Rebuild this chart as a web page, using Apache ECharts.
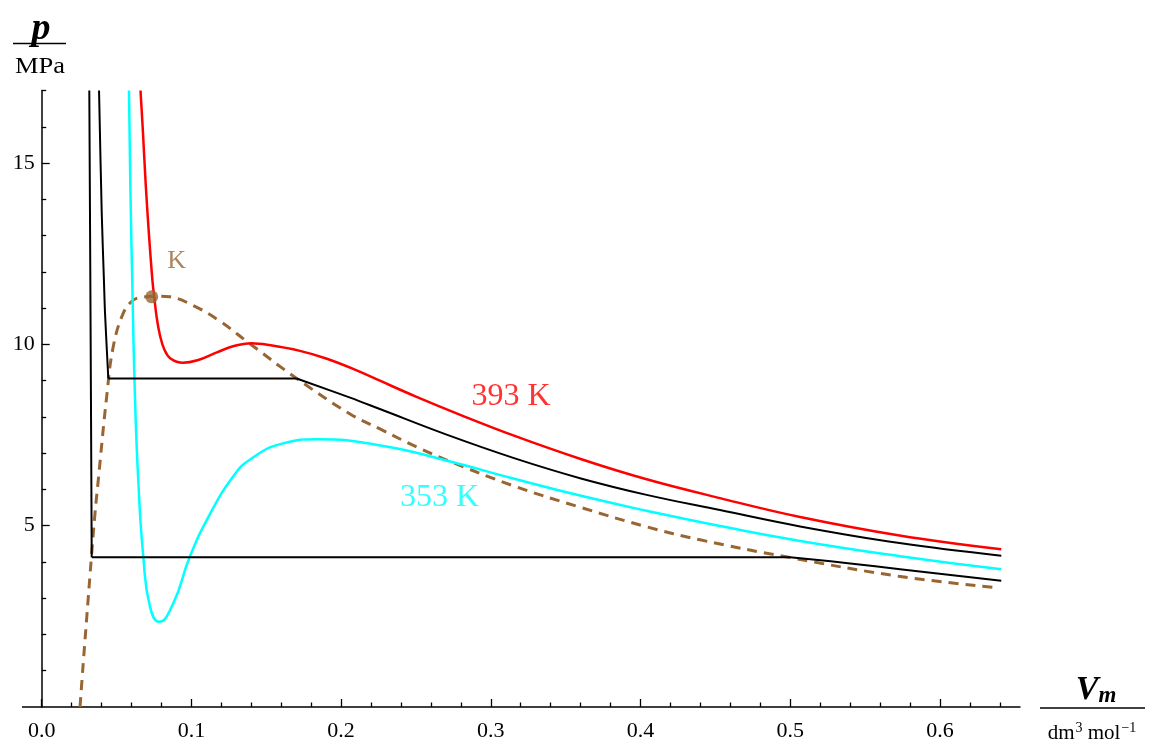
<!DOCTYPE html>
<html><head><meta charset="utf-8">
<script src="https://cdn.jsdelivr.net/npm/echarts@6/dist/echarts.min.js"></script>
<style>html,body{margin:0;padding:0;background:#fff}#c{width:1157px;height:743px}</style>
</head><body><div id="c"></div>
<script>
// ---- tick values ----
const xTickLabels = [0, 0.1, 0.2, 0.3, 0.4, 0.5, 0.6];
const xMinorTicks = [0.02, 0.04, 0.06, 0.08, 0.12, 0.14, 0.16, 0.18, 0.22, 0.24, 0.26, 0.28,
  0.32, 0.34, 0.36, 0.38, 0.42, 0.44, 0.46, 0.48, 0.52, 0.54, 0.56, 0.58, 0.62, 0.64];
const yTickLabels = [5, 10, 15];
const yMinorTicks = [1, 2, 3, 4, 6, 7, 8, 9, 11, 12, 13, 14, 16, 17];

// ---- curves [Vm (dm3/mol), p (MPa)] ----
const red393 = [[0.0660,17.0],[0.0677,15.8],[0.0695,14.4],[0.0717,13.0],[0.0741,11.7],[0.0752,11.3],
  [0.0768,10.75],[0.0790,10.25],[0.0820,9.85],[0.0860,9.61],[0.0944,9.49],[0.1040,9.56],[0.1170,9.78],
  [0.1290,9.96],[0.1400,10.03],[0.1520,9.98],[0.1725,9.82],[0.1900,9.61],[0.2100,9.29],[0.2263,8.99],
  [0.2500,8.56],[0.2800,8.05],[0.3150,7.49],[0.3600,6.84],[0.4041,6.28],[0.4531,5.76],[0.5066,5.24],
  [0.5730,4.73],[0.6410,4.35]];
const cyan353 = [[0.0583,17.0],[0.0592,14.4],[0.0605,11.73],[0.0623,8.56],[0.0645,6.26],[0.0679,4.13],
  [0.0723,2.77],[0.0784,2.35],[0.0879,2.86],[0.0990,4.15],[0.1124,5.32],[0.1280,6.36],[0.1390,6.82],
  [0.1614,7.27],[0.1837,7.38],[0.2282,7.20],[0.2728,6.77],[0.3150,6.30],[0.3596,5.83],[0.4041,5.41],
  [0.4531,4.99],[0.5066,4.58],[0.5734,4.16],[0.6410,3.80]];
const black393Liquid = [[0.0383,17.0],[0.0401,13.63],[0.0416,11.73],[0.0423,10.86],[0.0445,9.06]];
const black393Tie = [[0.0445,9.06],[0.1703,9.06]];
const black393Gas = [[0.1703,9.06],[0.2060,8.53],[0.2263,8.21],[0.2705,7.51],[0.3150,6.87],[0.3596,6.31],
  [0.4041,5.85],[0.4531,5.43],[0.5066,4.98],[0.5730,4.52],[0.6410,4.17]];
const black353Liquid = [[0.0318,17.0],[0.0325,11.7],[0.0329,8.5],[0.0334,4.13]];
const black353Tie = [[0.0334,4.13],[0.4999,4.13]];
const black353Gas = [[0.4999,4.13],[0.5401,3.96],[0.5734,3.80],[0.6410,3.48]];
const brownBoundary = [[0.0256,0],[0.0274,1.02],[0.0303,2.58],[0.0332,4.13],[0.0356,5.34],[0.0378,6.26],
  [0.0434,8.56],[0.0478,9.94],[0.0545,10.86],[0.0612,11.22],[0.0680,11.30],[0.0780,11.33],[0.0857,11.31],
  [0.1013,11.07],[0.1180,10.67],[0.1380,10.05],[0.1703,9.06],[0.2060,8.08],[0.2263,7.66],[0.2505,7.17],
  [0.2705,6.81],[0.3150,6.10],[0.3596,5.51],[0.4041,4.97],[0.4398,4.61],[0.4999,4.12],[0.5734,3.60],
  [0.6380,3.29]];
const criticalPoint = [[0.0735, 11.31]];
const criticalName = ['K'];
const curveNames = ['393 K', '353 K'];
const curveNameAnchors = [[0.3135, 8.55], [0.2657, 5.78]];

// ---- chart ----
const FONT = '"Liberation Serif", "DejaVu Serif", serif';
const RED = '#ff0000', CYAN = '#00ffff', BROWN = '#996633';
const X_MIN = 0, X_MAX = 0.6535, Y_MIN = 0, Y_MAX = 17;
const GRID = {left: 41.7, top: 90.5, width: 978.3, height: 616.5};

const chart = echarts.init(document.getElementById('c'), null, {renderer: 'canvas'});

function lineSeries(data, color, width, smooth, dashed) {
  return {
    type: 'line', data: data, xAxisIndex: 0, yAxisIndex: 0, showSymbol: false, symbol: 'none',
    smooth: smooth, silent: true, clip: true, z: 2,
    lineStyle: {color: color, width: width, type: dashed ? [10, 7] : 'solid', cap: 'butt', join: 'round'}
  };
}

const tickStyle = {color: '#000', width: 1.3};
const option = {
  animation: false,
  backgroundColor: '#ffffff',
  grid: Object.assign({containLabel: false}, GRID),
  xAxis: [
    {type: 'value', min: X_MIN, max: X_MAX, position: 'bottom',
     axisLine: {show: true, onZero: false, lineStyle: {color: '#000', width: 1.5}},
     axisTick: {show: true, inside: true, length: 8, customValues: xTickLabels, lineStyle: tickStyle},
     axisLabel: {show: true, customValues: xTickLabels, margin: 13, color: '#000', fontFamily: FONT, fontSize: 22,
       formatter: v => Number(v).toFixed(1)},
     splitLine: {show: false}},
    {type: 'value', min: X_MIN, max: X_MAX, position: 'bottom',
     axisLine: {show: false, onZero: false},
     axisTick: {show: true, inside: true, length: 4.5, customValues: xMinorTicks, lineStyle: tickStyle},
     axisLabel: {show: false}, splitLine: {show: false}}
  ],
  yAxis: [
    {type: 'value', min: Y_MIN, max: Y_MAX, position: 'left',
     axisLine: {show: true, onZero: false, lineStyle: {color: '#000', width: 1.5}},
     axisTick: {show: true, inside: true, length: 8, customValues: yTickLabels, lineStyle: tickStyle},
     axisLabel: {show: true, customValues: yTickLabels, margin: 7, color: '#000', fontFamily: FONT, fontSize: 22},
     splitLine: {show: false}},
    {type: 'value', min: Y_MIN, max: Y_MAX, position: 'left',
     axisLine: {show: false, onZero: false},
     axisTick: {show: true, inside: true, length: 4.5, customValues: yMinorTicks, lineStyle: tickStyle},
     axisLabel: {show: false}, splitLine: {show: false}}
  ],
  series: [
    lineSeries(brownBoundary, BROWN, 3, 0.4, true),
    lineSeries(cyan353, CYAN, 2.5, 0.5, false),
    lineSeries(black353Liquid, '#000', 2, 0.3, false),
    lineSeries(black353Tie, '#000', 2, false, false),
    lineSeries(black353Gas, '#000', 2, 0.4, false),
    lineSeries(black393Liquid, '#000', 2, 0.3, false),
    lineSeries(black393Tie, '#000', 2, false, false),
    lineSeries(black393Gas, '#000', 2, 0.4, false),
    lineSeries(red393, RED, 2.5, 0.4, false),
    {type: 'scatter', silent: true, z: 5, xAxisIndex: 0, yAxisIndex: 0, symbol: 'circle', symbolSize: 13,
     itemStyle: {color: BROWN},
     data: criticalPoint.map((p, i) => ({value: p, name: criticalName[i]})),
     label: {show: true, formatter: '{b}', position: 'inside', offset: [25, -36], color: BROWN,
       fontFamily: FONT, fontSize: 26}},
    {type: 'scatter', silent: true, z: 5, xAxisIndex: 0, yAxisIndex: 0, symbol: 'circle', symbolSize: 1,
     itemStyle: {color: 'rgba(0,0,0,0)'},
     data: curveNameAnchors.map((p, i) => ({value: p, name: curveNames[i],
       label: {color: [RED, CYAN][i]}})),
     label: {show: true, formatter: '{b}', position: 'inside', fontFamily: FONT, fontSize: 32}}
  ],
  graphic: [
    // x-axis line continues a little to the left of the p axis
    {type: 'line', shape: {x1: 22, y1: GRID.top + GRID.height, x2: GRID.left, y2: GRID.top + GRID.height},
     style: {stroke: '#000', lineWidth: 1.5}},
    {type: 'text', x: 41, y: 29, style: {text: 'p', font: 'italic bold 38px ' + FONT,
      fill: '#000', align: 'center', verticalAlign: 'middle'}},
    {type: 'line', shape: {x1: 13, y1: 43.5, x2: 66, y2: 43.5}, style: {stroke: '#000', lineWidth: 1.5}},
    {type: 'text', x: 40, y: 67, scaleX: 1.15, style: {text: 'MPa', font: '23px ' + FONT, fill: '#000',
      align: 'center', verticalAlign: 'middle'}},
    {type: 'text', x: 1096, y: 690, style: {
      text: '{v|V}{m|m}', align: 'center', verticalAlign: 'middle', fill: '#000',
      rich: {v: {font: 'italic bold 34px ' + FONT, fill: '#000'},
             m: {font: 'italic bold 23px ' + FONT, fill: '#000', padding: [12, 0, 0, 0]}}}},
    {type: 'line', shape: {x1: 1040, y1: 708, x2: 1145, y2: 708}, style: {stroke: '#000', lineWidth: 1.5}},
    {type: 'text', x: 1092, y: 733, style: {
      text: '{t|dm}{s|3}{t| mol}{s|−1}', align: 'center', verticalAlign: 'middle', fill: '#000',
      rich: {t: {font: '21px ' + FONT, fill: '#000'},
             s: {font: '14px ' + FONT, fill: '#000', padding: [0, 0, 10, 1]}}}}
  ]
};
chart.setOption(option);
</script>
</body></html>
